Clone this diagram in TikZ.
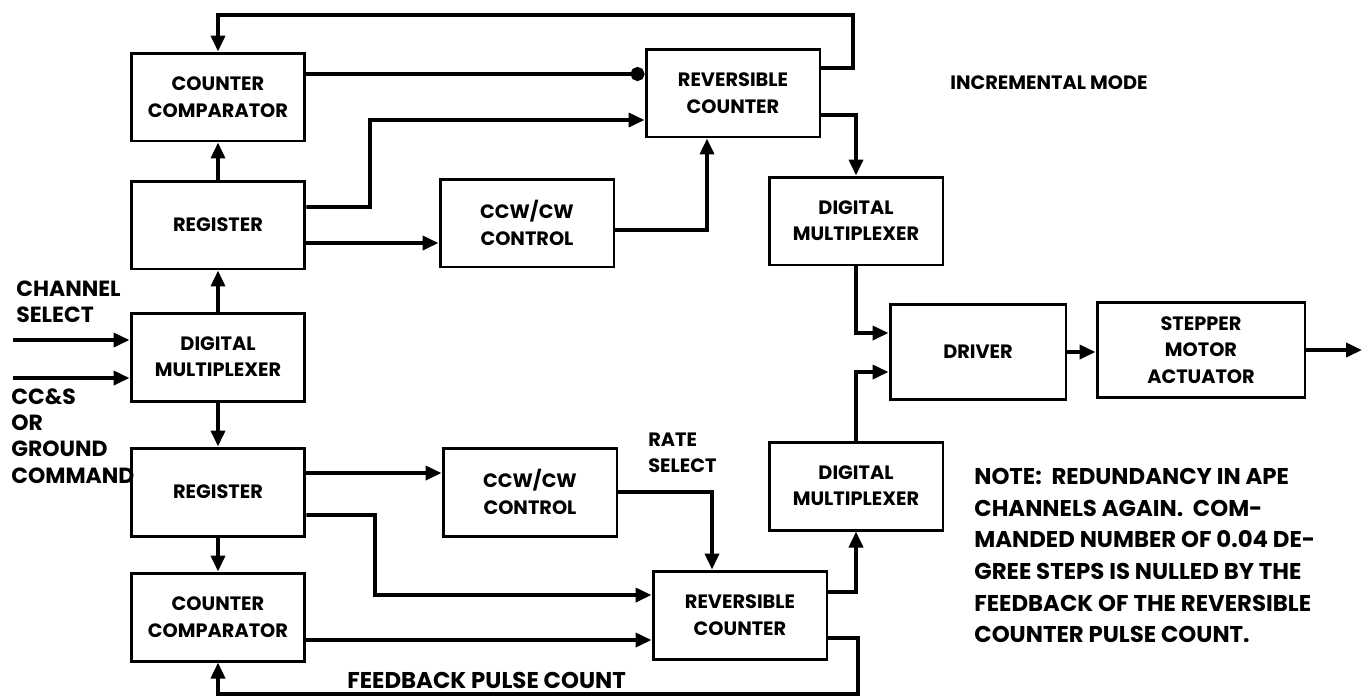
\documentclass[tikz,border=0pt]{standalone}
\usepackage{fontspec}
\setsansfont{Poppins}
\usetikzlibrary{arrows.meta}

\begin{document}
\begin{tikzpicture}[x=0.02cm, y=-0.02cm,
    every node/.style={font=\sffamily\bfseries\fontsize{11}{15}\selectfont},
    block/.style={draw, line width=1.7pt, minimum width=3.48cm, minimum height=1.76cm, align=center, inner sep=2pt},
    wire/.style={line width=2.1pt},
    arr/.style={wire, -{Triangle[length=0.32cm, width=0.28cm]}},
    dot/.style={wire, -{Circle[length=0.28cm]}},
    lbl/.style={align=left, anchor=west, inner sep=0pt},
    big/.style={font=\sffamily\bfseries\fontsize{13}{18}\selectfont},
    side/.style={font=\sffamily\bfseries\fontsize{12.5}{15}\selectfont}]
    \useasboundingbox (0,0) rectangle (1364,698);
    % left column
    \node[block] (cmpA) at (218,97) {COUNTER\\COMPARATOR};
    \node[block] (regA) at (218,225) {REGISTER};
    \node[block] (mux) at (218,357) {DIGITAL\\MULTIPLEXER};
    \node[block] (regB) at (218,492) {REGISTER};
    \node[block] (cmpB) at (218,617) {COUNTER\\COMPARATOR};
    % middle and right
    \node[block] (ccwA) at (527,223) {CCW/CW\\CONTROL};
    \node[block] (ccwB) at (530,492) {CCW/CW\\CONTROL};
    \node[block] (revA) at (733,93) {REVERSIBLE\\COUNTER};
    \node[block] (revB) at (740,615) {REVERSIBLE\\COUNTER};
    \node[block] (dmA) at (856,221) {DIGITAL\\MULTIPLEXER};
    \node[block] (dmB) at (856,486) {DIGITAL\\MULTIPLEXER};
    \node[block, minimum width=3.52cm, minimum height=1.9cm] (drv) at (978,352) {DRIVER};
    \node[block, minimum width=4.16cm, minimum height=1.9cm] (spm) at (1201,350) {STEPPER\\MOTOR\\ACTUATOR};
    \coordinate (chin) at (13,340);
    \coordinate (ccin) at (13,378);
    \coordinate (out) at (1362,350);
    % labels
    \node[lbl] (incr) at (950,83) {INCREMENTAL MODE};
    \node[lbl, side] (chsel) at (16,302) {CHANNEL\\SELECT};
    \node[lbl, side] (cmd) at (11,436) {CC\&S\\OR\\GROUND\\COMMAND};
    \node[lbl] (rate) at (648,453) {RATE\\SELECT};
    \node[lbl, big] (fb) at (347,680) {FEEDBACK PULSE COUNT};
    \node[lbl, big, anchor=north west] (note) at (974,468)
        {NOTE:\ \ REDUNDANCY IN APE\\CHANNELS AGAIN.\ \ COM-\\MANDED NUMBER OF 0.04 DE-\\GREE STEPS IS NULLED BY THE\\FEEDBACK OF THE REVERSIBLE\\COUNTER PULSE COUNT.};
    % inputs and the left column
    \draw[arr] (chin) -- (chin -| mux.west);
    \draw[arr] (ccin) -- (ccin -| mux.west);
    \draw[arr] (mux) -- (regA);
    \draw[arr] (regA) -- (cmpA);
    \draw[arr] (mux) -- (regB);
    \draw[arr] (regB) -- (cmpB);
    % upper half
    \draw[arr] ([yshift=0.5cm]revA.east) -| (853,15) -| (cmpA.north);
    \draw[dot] ([yshift=0.46cm]cmpA.east) coordinate (p1) -- (p1 -| revA.west);
    \draw[arr] ([yshift=0.36cm]regA.east) -| (370,120) -- ([yshift=-0.54cm]revA.west);
    \draw[arr] ([yshift=-0.36cm]regA.east) coordinate (p2) -- (p2 -| ccwA.west);
    \draw[arr] ([yshift=-0.14cm]ccwA.east) -| ([xshift=-0.52cm]revA.south);
    \draw[arr] ([yshift=-0.44cm]revA.east) -| (dmA.north);
    \draw[arr] (dmA.south) |- ([yshift=0.38cm]drv.west);
    % lower half
    \draw[arr] (dmB.north) |- ([yshift=-0.4cm]drv.west);
    \draw[arr] ([yshift=0.38cm]regB.east) coordinate (p3) -- (p3 -| ccwB.west);
    \draw[arr] ([yshift=-0.46cm]regB.east) -| (375,595) -- ([yshift=0.4cm]revB.west);
    \draw[arr] ([yshift=-0.46cm]cmpB.east) coordinate (p4) -- (p4 -| revB.west);
    \draw[arr] (ccwB.east) -| ([xshift=-0.56cm]revB.north);
    \draw[arr] ([yshift=0.46cm]revB.east) -| (dmB.south);
    \draw[arr] ([yshift=-0.46cm]revB.east) -| (858,694) -| (cmpB.south);
    % output side
    \draw[arr] (drv.east) coordinate (p5) -- (p5 -| spm.west);
    \draw[arr] (spm.east) -- (out);
\end{tikzpicture}
\end{document}
